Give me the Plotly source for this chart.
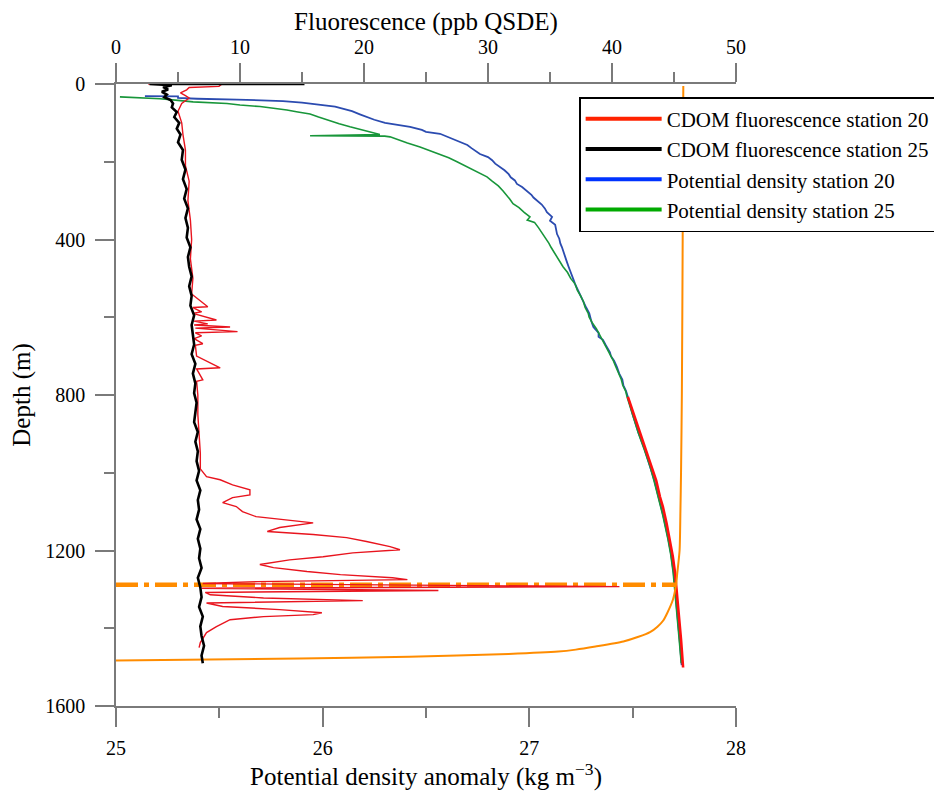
import plotly.graph_objects as go

# ---------------- data ----------------
# CDOM fluorescence, station 20 (ppb QSDE) vs depth (m)
cdom20_depth = [0, 1, 6, 9, 15, 23, 30, 36, 50, 70,
                100, 130, 170, 210, 250, 300, 350, 400, 450, 500,
                540, 573, 575, 586, 590, 607, 610, 617, 620, 625,
                628, 637, 640, 648, 655, 668, 672, 700, 730, 733,
                761, 765, 800, 850, 900, 950, 990, 1010, 1018, 1031,
                1044, 1057, 1064, 1077, 1087, 1100, 1113, 1129, 1141, 1151,
                1159, 1167, 1177, 1190, 1198, 1206, 1216, 1224, 1236, 1244,
                1254, 1262, 1270, 1275, 1280, 1285, 1293, 1297, 1303, 1308,
                1314, 1322, 1329, 1335, 1344, 1352, 1360, 1365, 1370, 1378,
                1396, 1411, 1437, 1450]
cdom20_fluor = [2.6, 8.5, 8.3, 5.9, 5.7, 5.2, 5.6, 5.9, 5.3, 5.0,
                5.3, 5.4, 5.6, 5.6, 5.9, 5.8, 6.0, 6.1, 6.0, 6.2,
                6.1, 7.4, 6.2, 6.9, 6.2, 8.1, 6.3, 7.4, 6.3, 9.2,
                6.4, 9.8, 6.4, 6.9, 6.3, 7.0, 6.4, 6.5, 8.4, 6.5,
                7.0, 6.5, 6.6, 6.6, 6.7, 6.8, 6.8, 7.3, 8.4, 9.4,
                10.8, 10.8, 9.4, 8.6, 9.7, 10.2, 11.3, 15.9, 13.2, 12.2,
                15.9, 18.6, 20.2, 22.1, 22.9, 19.1, 16.7, 14.0, 11.6, 12.7,
                15.4, 18.1, 22.3, 23.5, 11.4, 7.0, 40.6, 6.9, 26.0, 7.2,
                7.6, 11.9, 19.9, 7.3, 8.6, 13.2, 16.6, 15.9, 11.9, 9.2,
                8.1, 7.3, 6.8, 6.7]

# CDOM fluorescence, station 25
cdom25_depth = [0, 0, 3, 8, 14, 20, 27, 34, 41, 50,
                60, 72, 85, 100, 115, 130, 150, 170, 195, 220,
                245, 270, 295, 320, 345, 370, 395, 420, 445, 470,
                495, 520, 545, 570, 595, 620, 645, 670, 695, 720,
                745, 770, 795, 820, 845, 870, 895, 920, 945, 970,
                995, 1020, 1045, 1070, 1095, 1120, 1145, 1170, 1195, 1220,
                1245, 1270, 1295, 1320, 1345, 1370, 1395, 1420, 1445, 1470,
                1490]
cdom25_fluor = [15.2, 2.7, 4.5, 3.8, 4.2, 3.7, 4.1, 3.9, 4.4, 4.6,
                4.5, 4.9, 4.7, 5.1, 4.9, 5.2, 5.0, 5.4, 5.3, 5.6,
                5.4, 5.7, 5.5, 5.8, 5.6, 5.8, 5.7, 6.0, 5.8, 5.9,
                6.1, 5.9, 6.1, 6.0, 6.3, 6.1, 6.2, 6.3, 6.1, 6.4,
                6.2, 6.4, 6.3, 6.5, 6.4, 6.3, 6.6, 6.4, 6.6, 6.5,
                6.7, 6.5, 6.8, 6.6, 6.7, 6.5, 6.8, 6.6, 6.8, 6.7,
                6.9, 6.6, 6.8, 6.9, 6.7, 7.0, 6.8, 6.9, 7.1, 6.9,
                7.0]

# Potential density anomaly, station 20 (kg m-3)
dens20_depth = [31, 32, 36, 38, 40, 44, 48, 51, 55, 58,
                64, 70, 78, 85, 92, 100, 105, 110, 118, 123,
                128, 135, 142, 149, 157, 165, 172, 180, 188, 196,
                205, 213, 222, 232, 240, 248, 257, 265, 275, 285,
                292, 300, 310, 320, 330, 342, 352, 362, 375, 386,
                398, 410, 420, 429, 440, 455, 470, 481, 495, 505,
                514, 530, 545, 560, 575, 590, 599, 610, 625, 640,
                650, 658, 672, 690, 700, 712, 728, 745, 760, 775,
                790, 805, 850, 897, 940, 985, 1020, 1062, 1110, 1172,
                1210, 1257, 1300, 1344, 1390, 1429, 1495]
dens20_sigma = [25.140, 25.300, 25.300, 25.392, 25.585, 25.808, 25.900, 25.963, 26.010, 26.060,
                26.100, 26.142, 26.180, 26.215, 26.250, 26.302, 26.360, 26.423, 26.480, 26.500,
                26.568, 26.600, 26.640, 26.665, 26.700, 26.720, 26.740, 26.761, 26.800, 26.820,
                26.835, 26.858, 26.880, 26.900, 26.910, 26.930, 26.940, 26.965, 26.990, 27.010,
                27.020, 27.037, 27.060, 27.075, 27.085, 27.110, 27.100, 27.125, 27.130, 27.134,
                27.145, 27.150, 27.158, 27.163, 27.170, 27.180, 27.190, 27.197, 27.205, 27.215,
                27.221, 27.235, 27.245, 27.262, 27.275, 27.290, 27.294, 27.300, 27.310, 27.335,
                27.335, 27.356, 27.370, 27.390, 27.395, 27.410, 27.424, 27.435, 27.450, 27.455,
                27.468, 27.477, 27.500, 27.528, 27.558, 27.586, 27.605, 27.625, 27.648, 27.673,
                27.686, 27.698, 27.706, 27.713, 27.721, 27.727, 27.737]

# Potential density anomaly, station 25
dens25_depth = [33, 35, 38, 42, 46, 50, 54, 58, 62, 67,
                72, 77, 85, 95, 102, 110, 115, 121, 126, 130,
                133, 134, 136, 145, 152, 162, 170, 180, 190, 200,
                213, 222, 230, 239, 250, 262, 275, 285, 296, 308,
                318, 330, 342, 350, 356, 370, 386, 398, 410, 420,
                429, 440, 455, 470, 485, 500, 514, 530, 545, 560,
                575, 590, 599, 615, 630, 645, 658, 672, 690, 710,
                728, 745, 760, 775, 790, 805, 850, 897, 940, 985,
                1020, 1062, 1110, 1172, 1210, 1257, 1300, 1344, 1390, 1429,
                1490]
dens25_sigma = [25.019, 25.120, 25.213, 25.300, 25.373, 25.537, 25.600, 25.697, 25.760, 25.827,
                25.880, 25.939, 25.980, 26.035, 26.080, 26.132, 26.170, 26.215, 26.250, 26.277,
                25.939, 26.300, 26.326, 26.370, 26.410, 26.471, 26.510, 26.568, 26.610, 26.650,
                26.698, 26.730, 26.760, 26.795, 26.820, 26.850, 26.873, 26.890, 26.905, 26.921,
                26.950, 26.975, 27.003, 26.990, 27.025, 27.045, 27.066, 27.080, 27.095, 27.105,
                27.115, 27.130, 27.145, 27.163, 27.185, 27.200, 27.221, 27.232, 27.248, 27.262,
                27.270, 27.285, 27.289, 27.305, 27.325, 27.340, 27.352, 27.368, 27.388, 27.405,
                27.419, 27.432, 27.445, 27.452, 27.466, 27.473, 27.498, 27.527, 27.556, 27.585,
                27.603, 27.623, 27.646, 27.671, 27.684, 27.696, 27.704, 27.711, 27.719, 27.725,
                27.735]

# Red curve following the deep density profile
fit_depth = [805, 850, 897, 940, 985, 1020, 1062, 1087, 1130, 1172,
             1215, 1257, 1300, 1344, 1390, 1429, 1465, 1501]
fit_sigma = [27.477, 27.506, 27.535, 27.566, 27.594, 27.614, 27.632, 27.646, 27.664, 27.680,
             27.694, 27.705, 27.713, 27.720, 27.728, 27.734, 27.739, 27.744]

# Orange curve
orange_depth = [5, 400, 800, 1000, 1100, 1200, 1257, 1288, 1326, 1360,
                1380, 1396, 1410, 1422, 1434, 1447, 1455, 1460, 1466, 1473,
                1478, 1483]
orange_sigma = [27.745, 27.742, 27.738, 27.734, 27.731, 27.727, 27.716, 27.710, 27.695, 27.668,
                27.648, 27.620, 27.584, 27.528, 27.455, 27.320, 27.225, 27.140, 26.900, 26.420,
                25.890, 25.000]

# Orange dash-dot horizontal level
level_depth = [1288, 1288]
level_sigma = [25.0, 27.71]

legend_names = ["CDOM fluorescence station 20", "CDOM fluorescence station 25",
                "Potential density station 20", "Potential density station 25"]

# ---------------- figure ----------------
FONT = "Liberation Serif, Times New Roman, serif"
AX = "#7a7a7a"
RED, BLACK, BLUE, GREEN = "#e8141e", "#000000", "#2b4bb0", "#18963a"
ORANGE = "#ff8c00"

fig = go.Figure()

fig.add_trace(go.Scatter(x=cdom20_fluor, y=cdom20_depth, xaxis="x2", yaxis="y", mode="lines",
                         line=dict(color=RED, width=1.4), showlegend=False))
fig.add_trace(go.Scatter(x=cdom25_fluor, y=cdom25_depth, xaxis="x2", yaxis="y", mode="lines",
                         line=dict(color=BLACK, width=2.6), showlegend=False))
fig.add_trace(go.Scatter(x=dens20_sigma, y=dens20_depth, xaxis="x", yaxis="y", mode="lines",
                         line=dict(color=BLUE, width=1.8), showlegend=False))
fig.add_trace(go.Scatter(x=dens25_sigma, y=dens25_depth, xaxis="x", yaxis="y", mode="lines",
                         line=dict(color=GREEN, width=1.6), showlegend=False))
fig.add_trace(go.Scatter(x=fit_sigma, y=fit_depth, xaxis="x", yaxis="y", mode="lines",
                         line=dict(color="#ff1010", width=2.6), showlegend=False))
fig.add_trace(go.Scatter(x=orange_sigma, y=orange_depth, xaxis="x", yaxis="y", mode="lines",
                         line=dict(color=ORANGE, width=2, shape="spline", smoothing=0.7),
                         showlegend=False))
fig.add_trace(go.Scatter(x=level_sigma, y=level_depth, xaxis="x", yaxis="y", mode="lines",
                         line=dict(color=ORANGE, width=4.5, dash="22px,6px,5px,6px"),
                         showlegend=False))

# legend entries
for name, col in zip(legend_names, ["#ff2200", "#000000", "#0033ff", "#00aa00"]):
    fig.add_trace(go.Scatter(x=[None], y=[None], xaxis="x", yaxis="y", mode="lines",
                             name=name, line=dict(color=col, width=4)))

common_axis = dict(showgrid=False, zeroline=False, showline=True, linecolor=AX, linewidth=1.5,
                   ticks="outside", ticklen=19, tickwidth=1.5, tickcolor=AX, automargin=False,
                   tickfont=dict(family=FONT, size=20, color="black"))

fig.update_layout(
    width=934, height=789,
    margin=dict(l=108, r=206, t=76, b=91, autoexpand=False),
    paper_bgcolor="white", plot_bgcolor="white",
    font=dict(family=FONT, color="black"),
    xaxis=dict(range=[25, 28], tickmode="array", tickvals=[25, 26, 27, 28],
               minor=dict(dtick=0.5, tick0=25, ticks="outside", ticklen=10, tickwidth=1.5, tickcolor=AX),
               title=dict(text="Potential density anomaly (kg m<sup>−3</sup>)",
                          font=dict(family=FONT, size=25), standoff=6),
               ticklabelstandoff=4, anchor="y", **common_axis),
    xaxis2=dict(range=[0, 50], tickmode="linear", tick0=0, dtick=10, overlaying="x", side="top",
                minor=dict(dtick=5, tick0=0, ticks="outside", ticklen=10, tickwidth=1.5, tickcolor=AX),
                title=dict(text="Fluorescence (ppb QSDE)", font=dict(family=FONT, size=25), standoff=5),
                ticklabelstandoff=1, anchor="y", **common_axis),
    yaxis=dict(range=[1600, 0], tickmode="linear", tick0=0, dtick=400,
               minor=dict(dtick=200, tick0=0, ticks="outside", ticklen=10, tickwidth=1.5, tickcolor=AX),
               title=dict(text="Depth (m)", font=dict(family=FONT, size=25), standoff=12),
               ticklabelstandoff=6, **common_axis),
    legend=dict(x=0.747, y=0.979, xanchor="left", yanchor="top",
                bgcolor="white", bordercolor="black", borderwidth=1.5,
                font=dict(family=FONT, size=21, color="black"),
                itemwidth=76, tracegroupgap=0),
)

fig.write_html("out.html")
